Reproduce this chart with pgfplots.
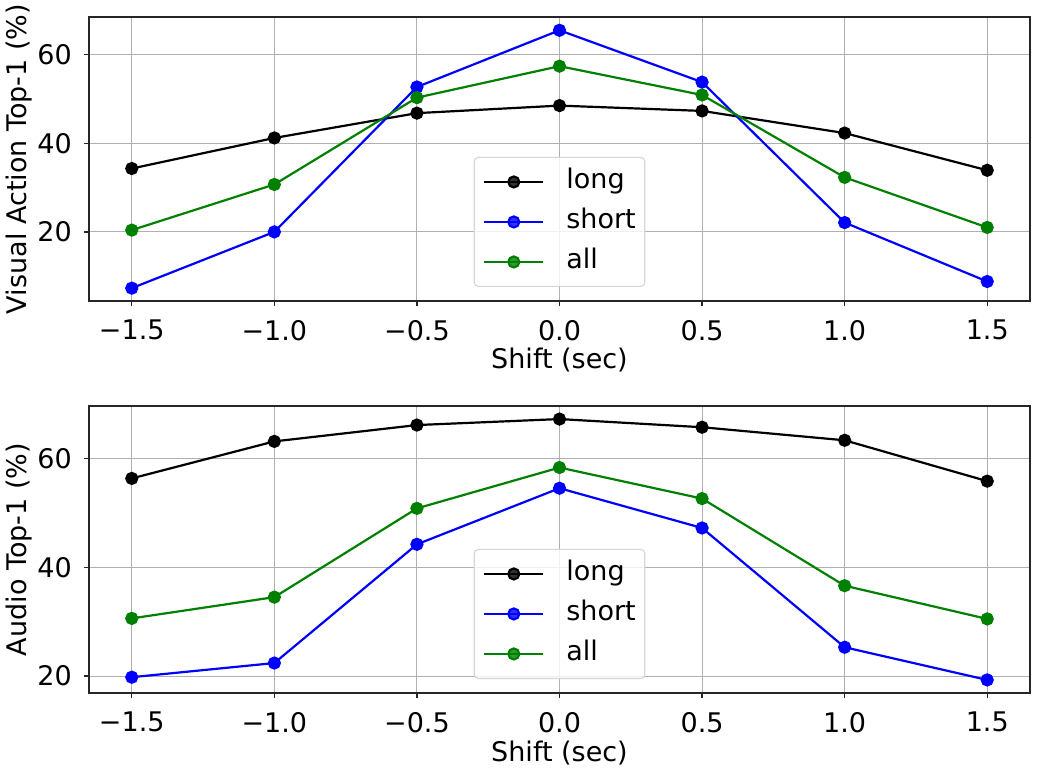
\documentclass[border=0pt]{standalone}
\usepackage{fontspec}
\setmainfont{DejaVu Sans}
\usepackage{pgfplots}
\pgfplotsset{compat=1.18}
\definecolor{mplgreen}{HTML}{008000}
\definecolor{mplblue}{HTML}{0000FF}
\definecolor{gridgray}{HTML}{B0B0B0}
\definecolor{legframe}{HTML}{D6D6D6}
\definecolor{frame}{HTML}{262626}
\begin{document}
\fontsize{27}{32}\selectfont
\begin{tikzpicture}
\path[use as bounding box] (0pt,0pt) rectangle (1038pt,768pt);
\pgfplotsset{
 myax/.style={
  scale only axis, width=941pt,
  xmin=-1.65, xmax=1.65,
  xtick={-1.5,-1,-0.5,0,0.5,1,1.5},
  xticklabels={−1.5,−1.0,−0.5,0.0,0.5,1.0,1.5},
  ytick={20,40,60},
  yticklabels={20,40,60},
  grid=major,
  grid style={draw=gridgray, line width=1.1pt},
  axis line style={draw=frame, line width=1.3pt},
  tick align=outside, tick pos=lower,
  major tick length=5pt,
  every tick/.style={draw=frame, line width=1.3pt},
  xticklabel style={inner sep=0pt, anchor=north, yshift=-14pt},
  yticklabel style={inner sep=0pt, anchor=east, xshift=-12pt},
  ylabel style={at={([xshift=-62pt]axis description cs:0,0.5)}, anchor=base, rotate=0, inner sep=0pt},
  xlabel style={at={([yshift=-68pt]axis description cs:0.5,0)}, anchor=base, inner sep=0pt},
  xlabel={Shift (sec)},
  legend style={at={([yshift=14pt]axis description cs:0.5,0)}, anchor=south,
    draw=legframe, line width=1.1pt, rounded corners=4pt, fill=white, fill opacity=0.8, text opacity=1,
    inner xsep=9pt, inner ysep=12pt,
    row sep=15pt,
    nodes={inner sep=0pt, text height=19pt, text depth=6pt},
    /tikz/every odd column/.append style={column sep=22pt},
    font=\fontsize{27}{32}\selectfont},
  legend cell align=left,
  legend image code/.code={
    \draw[mark repeat=2,mark phase=2] plot coordinates {(0pt,0pt) (29.5pt,0pt) (59pt,0pt)};
  },
  every axis plot/.append style={line width=2.2pt, mark=*, mark size=5.5pt},
 }
}
\begin{axis}[myax, name=top, at={(89pt,467pt)}, anchor=south west, height=284pt,
  ymin=4.4, ymax=68.5, ylabel={Visual Action Top-1 (\%)}]
\addplot[black, mark options={fill=black, draw=black}] coordinates {(-1.5,34.3) (-1.0,41.2) (-0.5,46.8) (0.0,48.5) (0.5,47.3) (1.0,42.3) (1.5,33.9)};
\addlegendentry{long}
\addplot[mplblue, mark options={fill=mplblue, draw=mplblue}] coordinates {(-1.5,7.3) (-1.0,20.0) (-0.5,52.7) (0.0,65.5) (0.5,53.8) (1.0,22.1) (1.5,8.8)};
\addlegendentry{short}
\addplot[mplgreen, mark options={fill=mplgreen, draw=mplgreen}] coordinates {(-1.5,20.4) (-1.0,30.7) (-0.5,50.3) (0.0,57.4) (0.5,50.9) (1.0,32.3) (1.5,21.0)};
\addlegendentry{all}
\end{axis}
\begin{axis}[myax, name=bot, at={(89pt,75pt)}, anchor=south west, height=287pt,
  ymin=16.9, ymax=69.6, ylabel={Audio Top-1 (\%)}]
\addplot[black, mark options={fill=black, draw=black}] coordinates {(-1.5,56.3) (-1.0,63.1) (-0.5,66.1) (0.0,67.2) (0.5,65.7) (1.0,63.3) (1.5,55.8)};
\addlegendentry{long}
\addplot[mplblue, mark options={fill=mplblue, draw=mplblue}] coordinates {(-1.5,19.8) (-1.0,22.4) (-0.5,44.2) (0.0,54.5) (0.5,47.2) (1.0,25.3) (1.5,19.3)};
\addlegendentry{short}
\addplot[mplgreen, mark options={fill=mplgreen, draw=mplgreen}] coordinates {(-1.5,30.6) (-1.0,34.5) (-0.5,50.8) (0.0,58.3) (0.5,52.6) (1.0,36.6) (1.5,30.5)};
\addlegendentry{all}
\end{axis}
\end{tikzpicture}
\end{document}
